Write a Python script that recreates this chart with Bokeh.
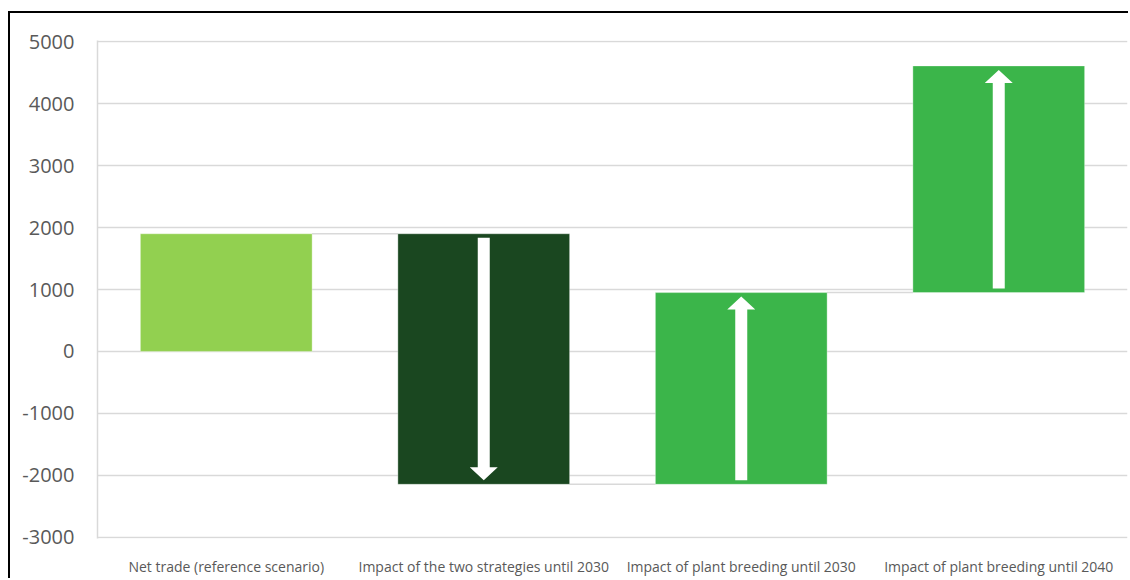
from bokeh.plotting import figure
from bokeh.models import Range1d, FixedTicker, ColumnDataSource
from bokeh.embed import file_html
from bokeh.resources import INLINE

# ---- data ----
categories = ["Net trade (reference scenario)",
              "Impact of the two strategies until 2030",
              "Impact of plant breeding until 2030",
              "Impact of plant breeding until 2040"]
changes = [1900, -4045, 3095, 3660]
colors = ["#92D050", "#1A4720", "#3BB54A", "#3BB54A"]
y_ticks = [-3000, -2000, -1000, 0, 1000, 2000, 3000, 4000, 5000]
y_tick_labels = ["-3000", "-2000", "-1000", "0", "1000", "2000", "3000", "4000", "5000"]

# waterfall levels
bottoms, tops, levels = [], [], []
level = 0
for c in changes:
    start = level
    level = level + c
    bottoms.append(min(start, level))
    tops.append(max(start, level))
    levels.append((start, level))

xs = list(range(len(categories)))

W, H = 1120, 567
L, R, T, B = 87, 3, 27, 42
pad = 20
p = figure(width=W, height=H, output_backend="svg", toolbar_location=None,
           x_range=Range1d(-0.5, len(categories) - 0.5),
           y_range=Range1d(y_ticks[0] - pad, y_ticks[-1] + pad),
           min_border_left=L, min_border_right=R, min_border_top=T, min_border_bottom=B)
p.styles = {"margin-left": "8px", "margin-top": "11px",
            "border-top": "2px solid black", "border-left": "2px solid black"}
p.outline_line_color = None
p.background_fill_color = "white"
p.border_fill_color = "white"

# grid
p.xgrid.grid_line_color = None
p.ygrid.ticker = FixedTicker(ticks=y_ticks)
p.ygrid.grid_line_color = "#D9D9D9"
p.ygrid.grid_line_width = 1.5

# y axis
p.yaxis.ticker = FixedTicker(ticks=y_ticks)
p.yaxis.major_label_overrides = {t: s for t, s in zip(y_ticks, y_tick_labels)}
p.yaxis.axis_line_color = "#D9D9D9"
p.yaxis.axis_line_width = 1.5
p.yaxis.major_tick_line_color = None
p.yaxis.minor_tick_line_color = None
p.yaxis.major_label_text_font = "Open Sans"
p.yaxis.major_label_text_font_size = "20px"
p.yaxis.major_label_text_color = "#595959"
p.yaxis.major_label_standoff = 17

# x axis
p.xaxis.ticker = FixedTicker(ticks=xs)
p.xaxis.major_label_overrides = {i: c for i, c in zip(xs, categories)}
p.xaxis.axis_line_color = None
p.xaxis.major_tick_line_color = None
p.xaxis.minor_tick_line_color = None
p.xaxis.major_label_text_font = "Open Sans"
p.xaxis.major_label_text_font_size = "14px"
p.xaxis.major_label_text_color = "#595959"
p.xaxis.major_label_standoff = 12

# connector lines
for i in range(len(changes) - 1):
    lvl = levels[i][1]
    p.line([xs[i] + 0.333, xs[i + 1] - 0.333], [lvl, lvl],
           line_color="#D9D9D9", line_width=1.5)

# bars
src = ColumnDataSource(dict(x=xs, top=tops, bottom=bottoms, color=colors))
p.vbar(x="x", top="top", bottom="bottom", width=0.667, fill_color="color",
       line_color="white", line_alpha=0.35, line_width=1, source=src)

# arrows (white) drawn from the waterfall levels
px_x = (W - L - R) / len(categories)
px_y = (H - T - B) / (y_ticks[-1] - y_ticks[0] + 2 * pad)
shaft = 6 / px_x
head_w = 14 / px_x
head_l = 13 / px_y
inset = 4 / px_y
axs, ays = [], []
for i in range(1, len(changes)):
    s, e = levels[i]
    d = 1 if e > s else -1
    y0 = s + d * inset
    y1 = e - d * inset
    yb = y1 - d * head_l
    x = xs[i]
    axs.append([x - shaft, x - shaft, x - head_w, x, x + head_w, x + shaft, x + shaft])
    ays.append([y0, yb, yb, y1, yb, yb, y0])
p.patches(axs, ays, fill_color="white", line_color=None)

open("out.html", "w").write(file_html(p, INLINE))
